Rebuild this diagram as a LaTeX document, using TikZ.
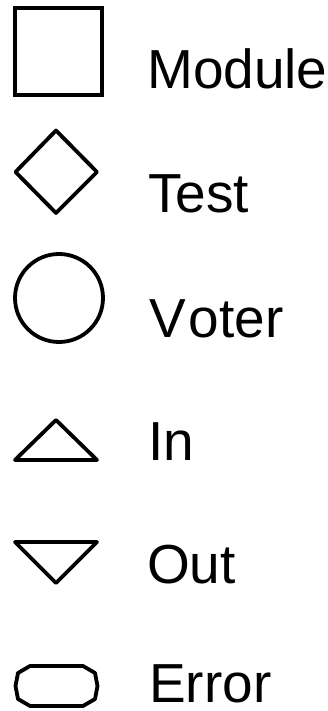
\documentclass[tikz,border=0pt]{standalone}
\usepackage{fontspec}
\setmainfont{Liberation Sans}
\begin{document}
\begin{tikzpicture}[x=1pt,y=-1pt,
  sym/.style={draw=black,line width=3.8pt,line join=round},
  lbl/.style={anchor=base west,inner sep=0pt,font=\fontsize{55}{60}\selectfont}]
\useasboundingbox (0,0) rectangle (328,711);
% Module
\draw[sym,line join=miter] (15,8) rectangle (102,95);
\node[lbl] (module) at (147,89) {Module};
% Test
\draw[sym] (15.5,172) -- (56,130.5) -- (97,172) -- (56,213) -- cycle;
\node[lbl] (test) at (148,213) {Test};
% Voter
\draw[sym] (59,298) circle (44);
\node[lbl] (voter) at (149,337) {V\kern3pt oter};
% In
\draw[sym] (15,460) -- (56,420) -- (97,460) -- cycle;
\node[lbl] (in) at (148,460) {In};
% Out
\draw[sym] (15,542) -- (97,542) -- (56,583) -- cycle;
\node[lbl] (out) at (147,583) {Out};
% Error
\draw[sym] (30,666) -- (83,666) -- (95,673) -- (97.5,686) -- (95,699) -- (83,706) -- (30,706) -- (18,699) -- (15.5,686) -- (18,673) -- cycle;
\node[lbl] (error) at (149,702) {Error};
\end{tikzpicture}
\end{document}
